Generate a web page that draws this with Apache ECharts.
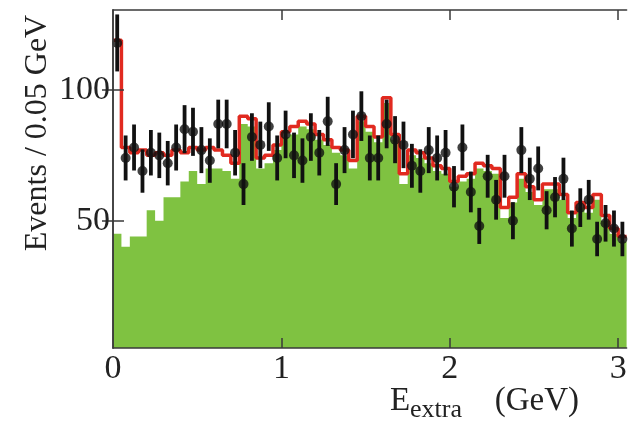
<!DOCTYPE html>
<html><head><meta charset="utf-8">
<script src="https://cdn.jsdelivr.net/npm/echarts@6/dist/echarts.min.js"></script>
<style>html,body{margin:0;padding:0;background:#fff}#c{width:635px;height:422px}</style>
</head><body><div id="c"></div>
<script>
// Bin edges of E_extra (GeV), 0.05 GeV bins
const binEdges = [0,0.05,0.1,0.15,0.2,0.25,0.3,0.35,0.4,0.45,0.5,0.55,0.6,0.65,0.7,0.75,0.8,0.85,0.9,0.95,
  1.0,1.05,1.1,1.15,1.2,1.25,1.3,1.35,1.4,1.45,1.5,1.55,1.6,1.65,1.7,1.75,1.8,1.85,1.9,1.95,
  2.0,2.05,2.1,2.15,2.2,2.25,2.3,2.35,2.4,2.45,2.5,2.55,2.6,2.65,2.7,2.75,2.8,2.85,2.9,2.95,3.0,3.05];
// Background component (green filled histogram)
const background = [45,40,44,44,54,50,59,59,65,69,64,70,70,69,66,87,86,70,72,77,
  82,83,86,85,81,79,76,75,70,88,84,80,95,81,64,75,74,72,69,68,
  63,65,66,70,69,68,51,57,66,61,56,62,62,58,51,55,53,58,50,45,42];
// Total fit (red histogram)
const totalFit = [119,78,76,77,75,76,75,77,76,78,77,78,77,75,72,90,89,74,75,79,
  84,86,88,87,83,81,78,77,73,90,86,82,97,83,68,77,76,74,71,70,
  65,67,68,72,71,70,55,59,68,63,58,64,64,60,53,57,55,60,52,47,44];
// Data counts and their error bars
const dataCounts = [118,74,78,69,76,75,72,78,85,84,77,73,87,87,76,64,82,79,86,74,
  83,75,73,82,76,88,64,77,83,90,74,74,87,81,79,71,69,77,74,76,
  63,78,61,48,67,58,67,50,77,66,70,54,59,66,47,55,58,43,49,47,43];
const dataErrors = [10.9,8.6,8.8,8.3,8.7,8.7,8.5,8.8,9.2,9.2,8.8,8.5,9.3,9.3,8.7,8.0,9.1,8.9,9.3,8.6,
  9.1,8.7,8.5,9.1,8.7,9.4,8.0,8.8,9.1,9.5,8.6,8.6,9.3,9.0,8.9,8.4,8.3,8.8,8.6,8.7,
  7.9,8.8,7.8,6.9,8.2,7.6,8.2,7.1,8.8,8.1,8.4,7.3,7.7,8.1,6.9,7.4,7.6,6.6,7.0,6.9,6.6];
const xTickValues = [0,1,2,3];
const yTickValues = [50,100];

function stepData(vals){
  return binEdges.map((x,i)=>[x, vals[Math.min(i, vals.length-1)]]);
}
const pointData = dataCounts.map((v,i)=>[(binEdges[i]+binEdges[i+1])/2, v, dataErrors[i]]);

const SERIF = 'Liberation Serif, DejaVu Serif, serif';
const frame = {show:true, lineStyle:{color:'#3a3a3a', width:1.5}};
const tickStyle = {color:'#3a3a3a', width:1.5};

const chart = echarts.init(document.getElementById('c'), null, {renderer:'canvas'});
chart.setOption({
  animation:false,
  backgroundColor:'#fff',
  grid:{left:113, right:8.4, top:10, bottom:74},
  xAxis:[
    {type:'value', min:0, max:3.05, position:'bottom', z:10,
     axisLine:frame,
     axisTick:{show:true, inside:true, length:10, customValues:[1,2,3], lineStyle:tickStyle},
     axisLabel:{customValues:xTickValues, fontFamily:SERIF, fontSize:34, color:'#222', margin:4},
     splitLine:{show:false}},
    {type:'value', min:0, max:3.05, position:'top', z:10,
     axisLine:frame,
     axisTick:{show:true, inside:true, length:10, customValues:[1,2,3], lineStyle:tickStyle},
     axisLabel:{show:false}, splitLine:{show:false}}
  ],
  yAxis:[
    {type:'value', min:1.3, max:130.6, position:'left', z:10,
     axisLine:frame,
     axisTick:{show:true, inside:true, length:11, customValues:yTickValues, lineStyle:tickStyle},
     axisLabel:{customValues:yTickValues, fontFamily:SERIF, fontSize:34, color:'#222', margin:3},
     splitLine:{show:false}},
    {type:'value', min:1.3, max:130.6, position:'right', z:10,
     axisLine:frame,
     axisTick:{show:true, inside:true, length:11, customValues:yTickValues, lineStyle:tickStyle},
     axisLabel:{show:false}, splitLine:{show:false}}
  ],
  series:[
    {name:'Background', type:'line', step:'end', symbol:'none', data:stepData(background),
     lineStyle:{opacity:0, width:0}, areaStyle:{color:'#7fc241', opacity:1, origin:'start'}, z:1, silent:true},
    {name:'Total fit', type:'line', step:'end', symbol:'none', data:stepData(totalFit),
     lineStyle:{color:'#e12a20', width:3.5}, z:3, silent:true},
    {name:'Data errors', type:'custom', data:pointData, z:4,
     renderItem:function(params, api){
       const x = api.value(0), y = api.value(1), e = api.value(2);
       const p1 = api.coord([x, y+e]), p2 = api.coord([x, y-e]);
       return {type:'line', shape:{x1:p1[0], y1:p1[1], x2:p2[0], y2:p2[1]},
               style:{stroke:'#111', lineWidth:3.8}};
     }},
    {name:'Data', type:'scatter', data:pointData.map(p=>[p[0],p[1]]), symbol:'circle', symbolSize:10,
     itemStyle:{color:'#111'}, z:5}
  ],
  graphic:[
    {type:'text', x:38, y:133, rotation:Math.PI/2,
     style:{text:'Events / 0.05 GeV', font:'32px '+SERIF, fill:'#222', align:'center', verticalAlign:'middle'}},
    {type:'text', x:390, y:401,
     style:{text:'E', font:'33px '+SERIF, fill:'#222', align:'left', verticalAlign:'middle'}},
    {type:'text', x:410, y:410,
     style:{text:'extra', font:'26px '+SERIF, fill:'#222', align:'left', verticalAlign:'middle'}},
    {type:'text', x:579, y:401,
     style:{text:'(GeV)', font:'33px '+SERIF, fill:'#222', align:'right', verticalAlign:'middle'}}
  ]
});
</script></body></html>
